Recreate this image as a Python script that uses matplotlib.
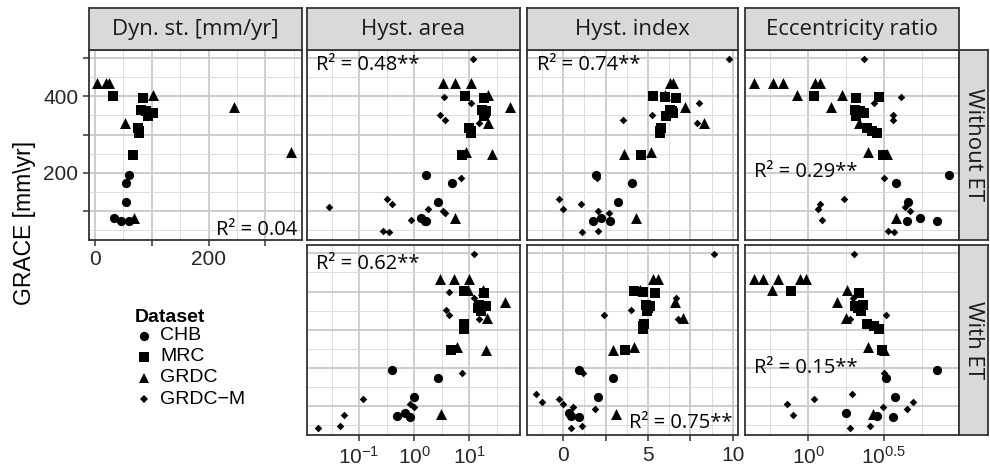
import numpy as np
import matplotlib
matplotlib.use('Agg')
import matplotlib.pyplot as plt
from matplotlib.lines import Line2D
from matplotlib.ticker import FixedLocator, FixedFormatter, NullFormatter

plt.rcParams['font.family'] = ['Liberation Sans', 'DejaVu Sans']
plt.rcParams['mathtext.fontset'] = 'custom'
plt.rcParams['mathtext.rm'] = 'Liberation Sans'
plt.rcParams['mathtext.it'] = 'Liberation Sans:italic'
plt.rcParams['mathtext.bf'] = 'Liberation Sans:bold'

nan = np.nan

# ---------------- data ----------------
datasets = ['CHB', 'MRC', 'GRDC', 'GRDC\u2212M']
columns = ['Dyn. st. [mm/yr]', 'Hyst. area', 'Hyst. index', 'Eccentricity ratio']
row_labels = ['Without ET', 'With ET']

# GRACE [mm/yr] per station (same in every panel)
grace_chb = [195, 173, 123, 81, 73, 72]
grace_mrc = [401, 399, 397, 364, 362, 356, 348, 316, 310, 303, 247]
grace_grdc = [434, 434, 434, 434, 434, 404, 403, 372, 331, 254, 248, 80]
grace_grdcm = [497, 399, 382, 351, 338, 329, 186, 132, 118, 110, 105, 99, 93, 76, 48, 44]

# Dynamic storage [mm/yr] (no GRDC-M values)
dyn_chb = [60, 55, 54, 34, 45, 60]
dyn_mrc = [31, nan, 85, 81, 90, 102, 94, 75, 78, 78, 66]
dyn_grdc = [4, 19, 25, nan, nan, nan, 102, 245, 53, 345, nan, 69]

# Hysteresis area, without / with ET
area_wo_chb = [1.62, 4.9, 2.69, 1.35, 1.55, 1.66]
area_wo_mrc = [8.3, nan, 18.6, 17.0, 20.0, 19.1, 18.2, 10.0, 10.5, 10.7, 7.4]
area_wo_grdc = [3.3, 5.4, 10.7, nan, nan, 21.4, nan, 55.0, 21.4, 8.7, 25.7, 5.5]
area_wo_grdcm = [11.6, 3.5, 10.7, 2.95, 3.6, 14.8, 7.1, 0.32, 0.39, 0.028, 1.74, 3.3, 3.6, 0.87, 0.275, 0.355]

area_w_chb = [0.39, 2.69, 1.0, 0.68, 0.49, 0.83]
area_w_mrc = [7.9, nan, 18.2, 15.1, 20.0, 14.1, 16.2, 7.9, 7.9, 8.1, 4.7]
area_w_grdc = [2.95, 5.25, 10.0, nan, nan, 9.3, 17.4, 44.7, 20.9, 5.9, 20.0, 3.1]
area_w_grdcm = [11.9, 4.3, 12.3, 3.8, 4.3, 15.1, 7.2, nan, 0.12, nan, 0.83, 1.0, nan, 0.054, 0.045, 0.018]

# Hysteresis index, without / with ET
index_wo_chb = [1.92, 4.08, 3.24, 2.25, 1.76, 2.75]
index_wo_mrc = [5.29, 6.0, 6.67, 6.27, 6.4, 6.47, 6.08, 5.78, 5.7, 5.69, 4.6]
index_wo_grdc = [6.27, 6.47, nan, nan, nan, 5.98, nan, 7.16, 8.33, 5.2, 3.57, 4.31]
index_wo_grdcm = [9.8, nan, 8.0, 5.25, 3.53, 7.9, 2.0, -0.24, 1.04, nan, -0.04, 2.02, 2.69, nan, 2.06, 1.08]

index_w_chb = [0.94, 2.94, 2.06, 0.35, 0.43, 0.94]
index_w_mrc = [4.16, 4.71, 5.39, 4.9, 5.1, 5.0, 4.94, 4.75, 4.73, 4.71, 3.63]
index_w_grdc = [5.29, 5.59, nan, nan, nan, 4.5, nan, 6.57, 7.06, 4.16, 2.94, 3.14]
index_w_grdcm = [8.88, nan, 6.67, 3.98, 2.39, 6.76, 1.18, -1.61, -0.24, -1.27, 0.0, 0.55, 1.86, nan, 1.12, 0.43]

# Eccentricity ratio, without / with ET
ecc_wo_chb = [8.55, 3.78, 4.58, 5.47, 4.51, 7.05]
ecc_wo_mrc = [1.09, 2.94, 2.08, 2.03, 2.19, 2.33, 2.08, 2.43, 2.62, 2.83, 3.13]
ecc_wo_grdc = [0.438, 0.587, 0.676, 1.107, 1.194, 0.838, 1.66, 1.41, 2.17, 2.49, 3.30, 3.78]
ecc_wo_grdcm = [2.33, 4.07, 2.72, 3.65, 3.65, nan, 3.16, 1.72, 1.19, 4.36, 1.16, 4.70, nan, 1.24, 3.38, 3.68]

ecc_w_chb = [7.05, 3.24, 3.74, 1.77, 2.83, 3.61]
ecc_w_mrc = [0.764, nan, 2.17, 2.29, 2.04, 2.14, 2.24, 2.43, 2.72, 2.93, 3.05]
ecc_w_grdc = [0.438, 0.505, 0.634, 0.881, 0.966, 0.573, 1.81, 1.54, 1.77, 2.47, 3.16, 2.69]
ecc_w_grdcm = [2.0, nan, 1.98, nan, 3.24, 1.88, 3.16, 1.93, 1.09, 4.94, 0.726, 3.10, 4.47, 0.796, 2.55, 1.88]

r2_dyn = 'R\u00b2 = 0.04'
r2_area = ['R\u00b2 = 0.48**', 'R\u00b2 = 0.62**']
r2_index = ['R\u00b2 = 0.74**', 'R\u00b2 = 0.75**']
r2_ecc = ['R\u00b2 = 0.29**', 'R\u00b2 = 0.15**']

# ---------------- styling ----------------
W, H = 990, 470
fig = plt.figure(figsize=(W / 100, H / 100), dpi=100)

DARK = '#333333'
STRIP = '#d9d9d9'
MAJ = '#c9c9c9'
MIN = '#dcdcdc'
TXT = '#262626'
STRIP_FONT = 'Open Sans'

col_x = [(89, 302), (307, 520), (527, 738), (745, 959)]
row_y = [(50, 239.5), (245, 435)]
strip_top = (8, 50)
strip_right = (959, 988)


def add_ax(x0, y0, x1, y1):
    return fig.add_axes([x0 / W, 1 - y1 / H, (x1 - x0) / W, (y1 - y0) / H])


mk = {'CHB': ('o', 44), 'MRC': ('s', 54), 'GRDC': ('^', 62), 'GRDC\u2212M': ('D', 15)}
grace = [grace_chb, grace_mrc, grace_grdc, grace_grdcm]

ylim = (24.5, 521.8)
y_major = [100, 200, 300, 400, 500]
y_minor = [50, 150, 250, 350, 450]


def style(ax):
    ax.set_facecolor('white')
    for s in ax.spines.values():
        s.set_color(DARK)
        s.set_linewidth(1.3)
        s.set_zorder(5)
    ax.set_axisbelow(True)
    ax.grid(which='major', color=MAJ, lw=1.3)
    ax.grid(which='minor', color=MIN, lw=0.7)
    ax.set_ylim(*ylim)
    ax.yaxis.set_major_locator(FixedLocator(y_major))
    ax.yaxis.set_minor_locator(FixedLocator(y_minor))
    ax.yaxis.set_major_formatter(FixedFormatter(['', '200', '', '400', '']))
    ax.tick_params(which='major', length=4.3, width=1.1, color=DARK,
                   labelsize=15, labelcolor=TXT, pad=3.5)
    ax.tick_params(which='minor', length=0)


def scatter_all(ax, xs):
    for name, x, y in zip(datasets, xs, grace):
        m, s = mk[name]
        x = np.asarray(x, float)
        y = np.asarray(y, float)
        ok = ~np.isnan(x)
        ax.scatter(x[ok], y[ok], marker=m, s=s, c='black', linewidths=0, zorder=3)


def r2(ax, x, y, s, ha, va):
    ax.text(x, y, s, transform=ax.transAxes, ha=ha, va=va, fontsize=14.5,
            family=STRIP_FONT, color='black', zorder=6)


# ---- Dyn. st. panel (top-left only)
ax = add_ax(col_x[0][0], row_y[0][0], col_x[0][1], row_y[0][1])
style(ax)
scatter_all(ax, [dyn_chb, dyn_mrc, dyn_grdc, [nan] * len(grace_grdcm)])
ax.set_xlim(-10.6, 364.4)
ax.xaxis.set_major_locator(FixedLocator([0, 100, 200, 300]))
ax.xaxis.set_minor_locator(FixedLocator([50, 150, 250, 350]))
ax.xaxis.set_major_formatter(FixedFormatter(['0', '', '200', '']))
r2(ax, 0.977, 0.024, r2_dyn, 'right', 'baseline')

area_sets = [[area_wo_chb, area_wo_mrc, area_wo_grdc, area_wo_grdcm],
             [area_w_chb, area_w_mrc, area_w_grdc, area_w_grdcm]]
index_sets = [[index_wo_chb, index_wo_mrc, index_wo_grdc, index_wo_grdcm],
              [index_w_chb, index_w_mrc, index_w_grdc, index_w_grdcm]]
ecc_sets = [[ecc_wo_chb, ecc_wo_mrc, ecc_wo_grdc, ecc_wo_grdcm],
            [ecc_w_chb, ecc_w_mrc, ecc_w_grdc, ecc_w_grdcm]]

for r in range(2):
    y0, y1 = row_y[r]
    # Hyst. area
    ax = add_ax(col_x[1][0], y0, col_x[1][1], y1)
    style(ax)
    ax.set_xscale('log')
    scatter_all(ax, area_sets[r])
    ax.set_xlim(10 ** -1.944, 10 ** 1.915)
    ax.xaxis.set_major_locator(FixedLocator([0.1, 1, 10]))
    ax.xaxis.set_minor_locator(FixedLocator([10 ** -1.5, 10 ** -0.5, 10 ** 0.5, 10 ** 1.5]))
    ax.xaxis.set_major_formatter(FixedFormatter(['10$^{-1}$', '10$^{0}$', '10$^{1}$']))
    ax.xaxis.set_minor_formatter(NullFormatter())
    r2(ax, 0.042, 0.975 if r == 0 else 0.955, r2_area[r], 'left', 'top')
    ax.tick_params(left=False, labelleft=False)
    if r == 0:
        ax.tick_params(bottom=False, labelbottom=False)

    # Hyst. index
    ax = add_ax(col_x[2][0], y0, col_x[2][1], y1)
    style(ax)
    scatter_all(ax, index_sets[r])
    ax.set_xlim(-2.14, 10.31)
    ax.xaxis.set_major_locator(FixedLocator([0, 2.5, 5, 7.5, 10]))
    ax.xaxis.set_minor_locator(FixedLocator([-1.25, 1.25, 3.75, 6.25, 8.75]))
    ax.xaxis.set_major_formatter(FixedFormatter(['0', '', '5', '', '10']))
    if r == 0:
        r2(ax, 0.047, 0.975, r2_index[r], 'left', 'top')
    else:
        r2(ax, 0.976, 0.037, r2_index[r], 'right', 'baseline')
    ax.tick_params(left=False, labelleft=False)
    if r == 0:
        ax.tick_params(bottom=False, labelbottom=False)

    # Eccentricity ratio
    ax = add_ax(col_x[3][0], y0, col_x[3][1], y1)
    style(ax)
    ax.set_xscale('log')
    scatter_all(ax, ecc_sets[r])
    ax.set_xlim(10 ** -0.418, 10 ** 0.995)
    ax.xaxis.set_major_locator(FixedLocator([1, 10 ** 0.5]))
    ax.xaxis.set_minor_locator(FixedLocator([10 ** -0.25, 10 ** 0.25, 10 ** 0.75]))
    ax.xaxis.set_major_formatter(FixedFormatter(['10$^{0}$', '10$^{0.5}$']))
    ax.xaxis.set_minor_formatter(NullFormatter())
    r2(ax, 0.042, 0.355, r2_ecc[r], 'left', 'center')
    ax.tick_params(left=False, labelleft=False)
    if r == 0:
        ax.tick_params(bottom=False, labelbottom=False)


def strip(x0, y0, x1, y1, label, rot):
    s = add_ax(x0, y0, x1, y1)
    s.set_facecolor(STRIP)
    s.set_xticks([])
    s.set_yticks([])
    for sp in s.spines.values():
        sp.set_color(DARK)
        sp.set_linewidth(1.3)
    s.text(0.5, 0.5, label, transform=s.transAxes, ha='center', va='center',
           rotation=rot, fontsize=16, family=STRIP_FONT, color='#1a1a1a')


for (x0, x1), lab in zip(col_x, columns):
    strip(x0, strip_top[0], x1, strip_top[1], lab, 0)
for (y0, y1), lab in zip(row_y, row_labels):
    strip(strip_right[0], y0, strip_right[1], y1, lab, -90)

# y-axis title
fig.text(25 / W, 1 - 223 / H, 'GRACE [mm\\yr]', rotation=90, ha='center', va='center',
         fontsize=16.5, color='black')

# legend (manual)
fig.text(135 / W, 1 - 317 / H, 'Dataset', fontsize=14, fontweight='bold',
         ha='left', va='center', color='black')
leg_y = [335.7, 356.7, 377.7, 399.3]
for name, yy in zip(datasets, leg_y):
    m, s = mk[name]
    ms = np.sqrt(s)
    fig.add_artist(Line2D([144 / W], [1 - yy / H], transform=fig.transFigure, marker=m,
                          markersize=ms, color='black', markeredgewidth=0, linestyle='none'))
    fig.text(160 / W, 1 - yy / H, name, fontsize=14, ha='left', va='center', color='black')

fig.savefig('out.png', dpi=100, facecolor='white')
